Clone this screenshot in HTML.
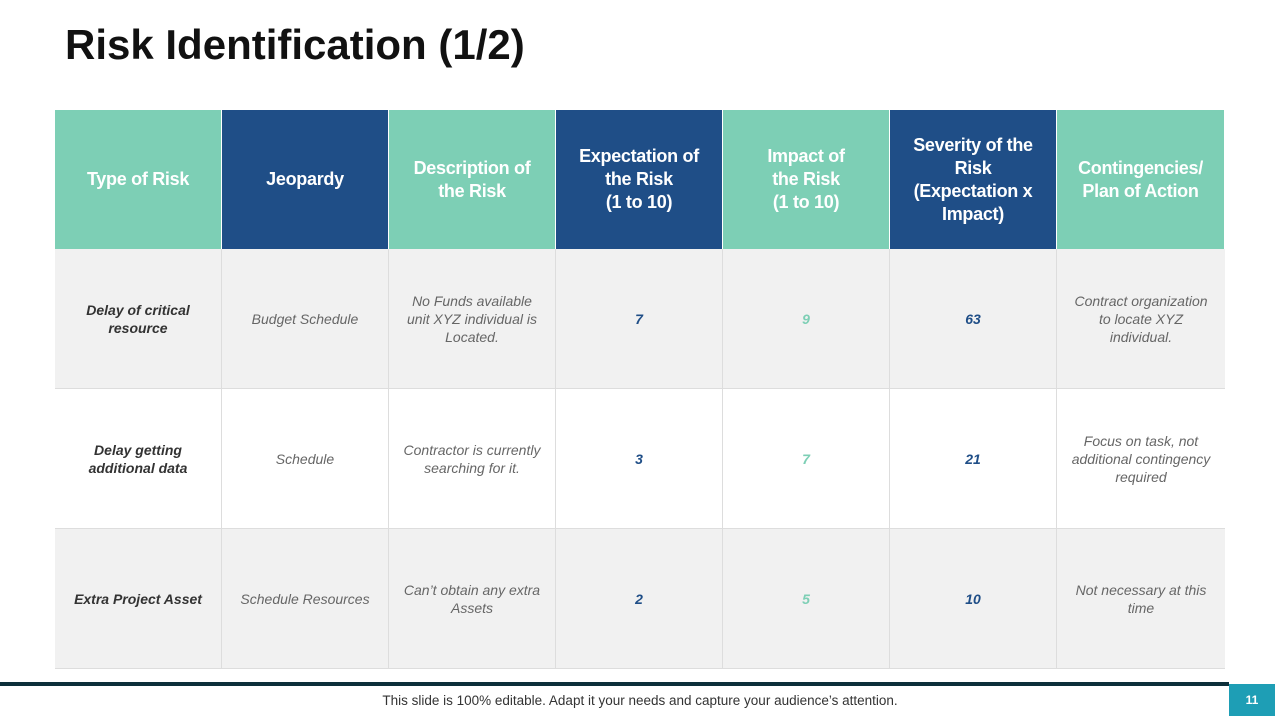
<!DOCTYPE html>
<html><head><meta charset="utf-8"><style>
body{margin:0;width:1280px;height:720px;background:#fff;position:relative;overflow:hidden;font-family:"Liberation Sans",sans-serif}
.t{position:absolute;left:65px;top:21px;font-size:42px;font-weight:bold;color:#111;letter-spacing:0px}
.c{position:absolute;display:flex;align-items:center;justify-content:center;text-align:center;box-sizing:border-box}
.h{color:#fff;font-weight:bold;font-size:18px;line-height:23px;padding:0 6px;letter-spacing:-0.3px}
.d{font-size:14px;font-style:italic;color:#666;line-height:18px;padding:0 14px;border-right:1px solid #ddd;border-bottom:1px solid #ddd}
</style></head><body>
<div class="t">Risk Identification (1/2)</div>
<div id="tbl"></div>
<div style="position:absolute;left:0;top:682px;width:1229px;height:4px;background:#0d2f3a"></div>
<div style="position:absolute;left:0;width:1280px;top:693px;text-align:center;font-size:13.5px;color:#333">This slide is 100% editable. Adapt it your needs and capture your audience’s attention.</div>
<div style="position:absolute;left:1229px;top:684px;width:46px;height:32px;background:#1e9eb5;color:#fff;font-size:12px;font-weight:bold;display:flex;align-items:center;justify-content:center">11</div>
<script>
const headers=["Type of Risk","Jeopardy","Description of<br>the Risk","Expectation of<br>the Risk<br>(1 to 10)","Impact of<br>the Risk<br>(1 to 10)","Severity of the<br>Risk<br>(Expectation x<br>Impact)","Contingencies/<br>Plan of Action"];
const types=["Delay of critical resource","Delay getting additional data","Extra Project Asset"];
const jeopardy=["Budget Schedule","Schedule","Schedule Resources"];
const desc=["No Funds available unit XYZ individual is Located.","Contractor is currently searching for it.","Can’t obtain any extra Assets"];
const expectation=[7,3,2];
const impact=[9,7,5];
const severity=[63,21,10];
const plans=["Contract organization to locate XYZ individual.","Focus on task, not additional contingency required","Not necessary at this time"];
const tbl=document.getElementById('tbl');
const X0=55,W=167,HY=110,HH=139,RH=140;
function cell(cls,x,y,w,h,html,bg,name){const d=document.createElement('div');d.className='c '+cls;d.style.cssText+=`left:${x}px;top:${y}px;width:${w}px;height:${h}px;background:${bg}`;d.innerHTML=html;


tbl.appendChild(d);return d;}
headers.forEach((h,i)=>{const bg=i%2?'#1f4e87':'#7dcfb5';const c=cell('h',X0+i*W,HY,i==6?168:W,HH,h,bg,'header-'+i);c.style.borderRight='1px solid #fff';});
for(let r=0;r<3;r++){const y=HY+HH+r*RH;const bg=r%2?'#fff':'#f1f1f1';
const vals=[types[r],jeopardy[r],desc[r],expectation[r],impact[r],severity[r],plans[r]];
vals.forEach((v,i)=>{const c=cell('d',X0+i*W,y,i==6?168:W,RH,v,bg,'row'+(r+1)+'-col'+(i+1));
if(i==0){c.style.fontWeight='bold';c.style.color='#333';}
if(i==3||i==5){c.style.fontWeight='bold';c.style.color='#1f4e87';}
if(i==4){c.style.fontWeight='bold';c.style.color='#7dcfb5';}
if(i==6)c.style.borderRight='none';});}
</script>
</body></html>
